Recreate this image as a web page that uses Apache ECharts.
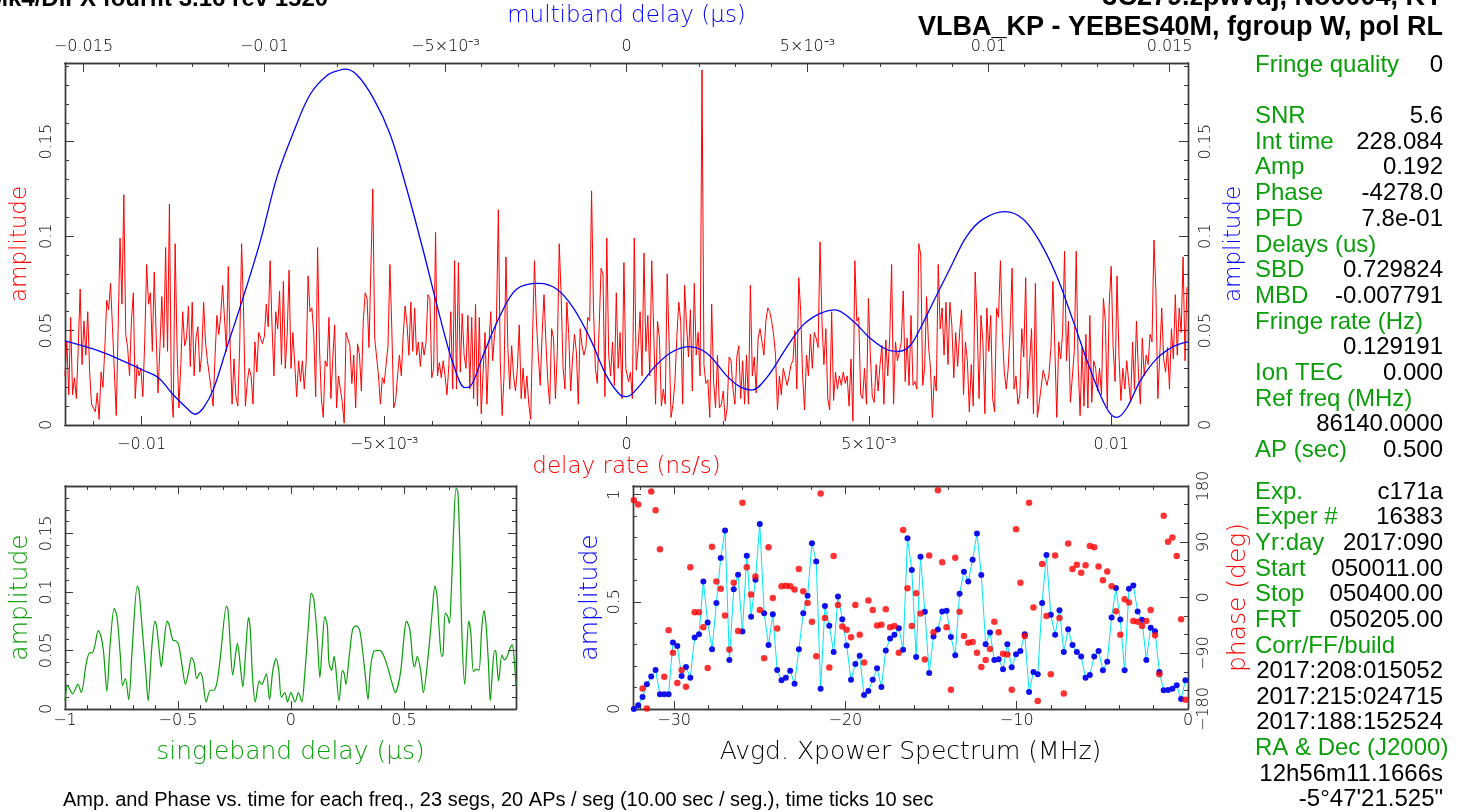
<!DOCTYPE html>
<html><head><meta charset="utf-8">
<script src="https://cdn.jsdelivr.net/npm/echarts@6/dist/echarts.min.js"></script>
<style>html,body{margin:0;padding:0;background:#fff;}#c{width:1462px;height:812px;}</style>
</head><body><div id="c"></div>
<script>
// ---------------- DATA ----------------
// Delay-rate amplitude (red), read in four consecutive stretches of the rate axis (ns/s)
const RED_RANGES = [[-0.011581,-0.005705],[-0.005664,-0.000014],[0.000041,0.005827],[0.005868,0.011559]];
const RED_A = [0.026,0.044,0.016,0.057,0.016,0.025,0.014,0.041,0.072,0.032,0.055,0.037,0.060,0.028,0.011,0.012,0.007,0.017,0.003,0.028,0.020,
0.041,0.066,0.061,0.075,0.052,0.051,0.005,0.051,0.099,0.064,0.122,0.048,0.041,0.026,0.055,0.070,0.014,0.032,0.026,0.030,0.015,0.044,0.085,
0.064,0.070,0.039,0.081,0.048,0.017,0.041,0.068,0.041,0.094,0.039,0.117,0.019,0.004,0.096,0.042,0.009,0.032,0.060,0.042,0.046,0.063,0.031,0.065,0.026,0.046,0.052,0.028,0.037,0.065,0.044,0.034,0.034,0.019,0.010,0.036,0.058,0.048,0.058,0.074,0.074,0.039,0.084,
0.041,0.011,0.035,0.015,0.010,0.042,0.096,0.062,0.010,0.023,0.030,0.026,0.011,0.044,0.028,0.049,0.046,0.043,0.047,0.064,0.052,0.087,0.053,0.026,0.060,0.051,0.071,0.032,0.076,0.030,0.048,0.082,0.030,0.049,0.049,0.015,0.034,0.023,0.034,0.019,0.034,0.079,0.060,0.062,0.048,0.015,0.094,0.041,0.014,0.004,0.034,0.031,0.057,0.014,0.035,0.053,0.009,0.026,0.019,0.012,0.001,0.049,0.050,0.042];
const RED_B = [0.022,0.037,0.009,0.043,0.037,0.018,0.055,0.070,0.067,0.041,0.041,0.125,0.046,0.046,0.026,0.011,0.025,0.022,0.021,0.042,0.085,0.051,0.009,0.013,0.026,0.037,0.026,0.048,0.063,0.053,0.037,0.065,0.039,0.062,0.037,0.044,0.031,0.044,0.037,0.044,0.069,0.067,0.025,0.030,0.102,0.026,0.033,0.025,0.034,0.026,0.016,0.032,0.060,0.019,0.087,0.019,0.086,0.028,0.059,0.037,0.030,0.058,0.019,0.057,0.014,0.064,0.010,0.057,0.006,0.028,0.049,0.011,0.042,0.060,0.034,0.048,0.055,0.114,0.034,0.005,0.026,0.089,0.041,0.019,0.042,0.026,0.018,0.030,0.053,0.014,0.030,0.014,0.026,0.011,0.003,0.048,0.087,0.055,0.037,0.021,0.048,0.069,0.044,0.023,0.011,0.051,0.046,0.014,0.039,0.096,0.069,0.031,0.019,0.065,0.048,0.018,0.035,0.048,0.039,0.011,0.051,0.042,0.037,0.041,0.057,0.055,0.124,0.062,0.030,0.022,0.023,0.083,0.080,0.015,0.099,0.037,0.026,0.044,0.021,0.070,0.030,0.049,0.014,0.086,0.030];
const RED_C = [0.023,0.028,0.014,0.099,0.029,0.041,0.060,0.026,0.091,0.039,0.058,0.026,0.087,0.051,0.011,0.055,0.046,0.010,0.019,0.011,0.080,0.044,0.004,0.011,0.023,0.047,0.065,0.055,0.011,0.074,0.053,0.036,0.061,0.018,0.075,0.037,0.049,0.026,0.188,0.032,0.022,0.024,0.004,0.064,0.023,0.009,0.037,0.009,0.011,0.018,0.002,0.009,0.036,0.034,0.019,0.011,0.036,0.042,0.014,0.034,0.011,0.037,0.011,0.074,0.026,0.036,0.017,0.046,0.051,0.052,0.037,0.055,0.062,0.060,0.055,0.048,0.037,0.008,0.026,0.016,0.030,0.029,0.021,0.026,0.032,0.034,0.050,0.019,0.078,0.060,0.026,0.008,0.037,0.026,0.048,0.030,0.049,0.046,0.041,0.097,0.055,0.032,0.051,0.014,0.008,0.060,0.013,0.028,0.019,0.026,0.021,0.028,0.022,0.026,0.010,0.035,0.002,0.087,0.055,0.057,0.016,0.014,0.030,0.011,0.067,0.037,0.015,0.012,0.032,0.018,0.032,0.042,0.011,0.045,0.026,0.046,0.085,0.011,0.044,0.034,0.039,0.044,0.071,0.023,0.046,0.021];
const RED_D = [0.058,0.021,0.023,0.019,0.096,0.090,0.021,0.030,0.068,0.042,0.030,0.004,0.026,0.018,0.085,0.051,0.062,0.037,0.065,0.032,0.065,0.053,0.025,0.049,0.031,0.049,0.061,0.016,0.044,0.034,0.007,0.032,0.010,0.081,0.055,0.014,0.058,0.044,0.006,0.062,0.039,0.058,0.014,0.007,0.062,0.057,0.087,0.049,0.028,0.019,0.030,0.051,0.083,0.019,0.026,0.011,0.016,0.051,0.036,0.078,0.014,0.015,0.051,0.006,0.075,0.004,0.012,0.011,0.029,0.030,0.021,0.027,0.041,0.076,0.041,0.004,0.044,0.035,0.049,0.092,0.034,0.055,0.012,0.013,0.039,0.092,0.032,0.005,0.041,0.010,0.048,0.009,0.058,0.012,0.034,0.030,0.018,0.030,0.016,0.067,0.055,0.009,0.064,0.084,0.041,0.023,0.079,0.037,0.013,0.030,0.019,0.034,0.023,0.012,0.044,0.019,0.055,0.028,0.011,0.046,0.026,0.037,0.032,0.048,0.044,0.098,0.071,0.014,0.037,0.062,0.035,0.028,0.041,0.019,0.051,0.035,0.069,0.037,0.062,0.049,0.089,0.034,0.073];

// Multiband delay amplitude (blue), multiband delay in microseconds
const MBD_X = [-0.01551,-0.01454,-0.01380,-0.01335,-0.01293,-0.01252,-0.01215,-0.01192,-0.01169,-0.01141,-0.01104,-0.01068,-0.01012,-0.00966,-0.00920,-0.00874,-0.00828,-0.00791,-0.00778,-0.00745,-0.00699,-0.00653,-0.00607,-0.00561,-0.00515,-0.00478,-0.00446,-0.00432,-0.00396,-0.00349,-0.00303,-0.00242,-0.00193,-0.00147,-0.00101,-0.00055,-0.00018,0.00001,0.00037,0.00074,0.00120,0.00171,0.00222,0.00277,0.00313,0.00346,0.00387,0.00442,0.00488,0.00534,0.00576,0.00626,0.00673,0.00719,0.00751,0.00783,0.00811,0.00847,0.00894,0.00940,0.00985,0.01045,0.01096,0.01142,0.01188,0.01234,0.01280,0.01326,0.01354,0.01382,0.01418,0.01464,0.01510,0.01551];
const MBD_AMP = [0.0445,0.039,0.033,0.029,0.025,0.016,0.009,0.0057,0.009,0.019,0.041,0.062,0.097,0.131,0.155,0.175,0.185,0.188,0.1885,0.1855,0.173,0.154,0.125,0.092,0.057,0.032,0.0198,0.0203,0.037,0.058,0.072,0.075,0.072,0.062,0.046,0.026,0.016,0.015,0.021,0.030,0.038,0.0415,0.038,0.026,0.0203,0.0185,0.025,0.041,0.053,0.059,0.061,0.055,0.046,0.040,0.039,0.042,0.051,0.065,0.083,0.100,0.109,0.113,0.109,0.097,0.079,0.055,0.030,0.009,0.004,0.009,0.023,0.035,0.0415,0.044];

// Singleband delay amplitude (green), delay in microseconds
const SBD_X = [-1.000,-0.988,-0.966,-0.943,-0.928,-0.906,-0.891,-0.880,-0.869,-0.853,-0.842,-0.830,-0.823,-0.815,-0.800,-0.782,-0.770,-0.755,-0.745,-0.733,-0.718,-0.703,-0.680,-0.673,-0.658,-0.643,-0.632,-0.617,-0.602,-0.595,-0.583,-0.574,-0.565,-0.548,-0.538,-0.523,-0.508,-0.497,-0.481,-0.467,-0.452,-0.440,-0.429,-0.417,-0.402,-0.392,-0.375,-0.357,-0.342,-0.327,-0.312,-0.285,-0.278,-0.267,-0.258,-0.245,-0.237,-0.222,-0.213,-0.200,-0.188,-0.180,-0.170,-0.158,-0.140,-0.129,-0.117,-0.108,-0.095,-0.080,-0.065,-0.054,-0.042,-0.027,-0.015,0.000,0.018,0.033,0.048,0.060,0.078,0.090,0.101,0.116,0.128,0.138,0.150,0.161,0.168,0.180,0.191,0.198,0.213,0.228,0.236,0.243,0.258,0.273,0.288,0.303,0.315,0.330,0.341,0.351,0.366,0.386,0.401,0.423,0.449,0.461,0.484,0.502,0.511,0.526,0.539,0.547,0.559,0.574,0.586,0.607,0.626,0.637,0.646,0.656,0.667,0.673,0.683,0.694,0.701,0.709,0.719,0.731,0.739,0.748,0.757,0.769,0.778,0.787,0.796,0.808,0.821,0.832,0.844,0.854,0.863,0.874,0.882,0.892,0.901,0.907,0.919,0.934,0.946,0.957,0.972,0.979,0.987,0.996];
const SBD_AMP = [0.007,0.020,0.013,0.021,0.014,0.039,0.048,0.048,0.053,0.067,0.063,0.050,0.033,0.015,0.056,0.086,0.079,0.045,0.020,0.026,0.008,0.050,0.105,0.102,0.068,0.033,0.007,0.050,0.075,0.071,0.050,0.036,0.050,0.075,0.071,0.059,0.058,0.055,0.036,0.021,0.033,0.044,0.040,0.026,0.031,0.027,0.006,0.016,0.016,0.023,0.045,0.088,0.084,0.050,0.029,0.047,0.056,0.033,0.019,0.050,0.078,0.068,0.027,0.006,0.024,0.021,0.026,0.030,0.008,0.033,0.043,0.033,0.010,0.014,0.006,0.014,0.006,0.014,0.006,0.027,0.073,0.099,0.094,0.062,0.027,0.053,0.079,0.071,0.040,0.033,0.045,0.036,0.007,0.033,0.030,0.021,0.045,0.068,0.071,0.068,0.053,0.027,0.008,0.033,0.049,0.050,0.049,0.039,0.021,0.014,0.030,0.065,0.075,0.068,0.042,0.036,0.045,0.033,0.014,0.045,0.085,0.105,0.098,0.068,0.045,0.046,0.082,0.079,0.073,0.097,0.149,0.189,0.185,0.134,0.062,0.021,0.050,0.075,0.065,0.032,0.034,0.033,0.068,0.084,0.073,0.039,0.007,0.033,0.050,0.049,0.024,0.046,0.042,0.045,0.053,0.055,0.045,0.020];

// Averaged cross-power spectrum: channel frequencies (MHz), amplitude and phase (deg)
const FREQ_FIRST = -32.35, FREQ_LAST = -0.15;
const XP_AMP = [0.000,0.017,0.056,0.115,0.151,0.182,0.069,0.069,0.069,0.310,
0.294,0.154,0.196,0.146,0.333,0.349,0.595,0.403,0.279,0.494,
0.704,0.832,0.229,0.559,0.626,0.361,0.715,0.430,0.603,0.863,
0.447,0.299,0.442,0.182,0.134,0.146,0.178,0.118,0.279,0.447,
0.528,0.773,0.688,0.095,0.480,0.388,0.266,0.525,0.419,0.296,
0.136,0.210,0.248,0.065,0.084,0.136,0.190,0.103,0.273,0.329,
0.346,0.377,0.276,0.796,0.648,0.243,0.710,0.453,0.168,0.338,
0.371,0.455,0.458,0.336,0.251,0.537,0.640,0.595,0.696,0.819,
0.625,0.302,0.357,0.229,0.232,0.185,0.302,0.195,0.255,0.271,
0.349,0.079,0.173,0.162,0.494,0.718,0.439,0.346,0.461,0.266,
0.372,0.298,0.266,0.245,0.146,0.159,0.245,0.271,0.181,0.220,
0.427,0.564,0.417,0.181,0.561,0.576,0.455,0.416,0.229,0.379,
0.363,0.173,0.087,0.089,0.095,0.111,0.047,0.134];
const XP_PHASE = [157,150,-147,-179,171,141,78,-128,-53,-89,
-138,-117,-144,49,-24,-24,-48,-114,82,26,
14,-29,-84,24,-54,153,49,5,34,-20,
-98,81,-1,-50,18,19,18,13,46,10,
-9,-39,-95,168,-33,-113,67,-12,-47,-52,
-64,-12,-60,-105,-5,-20,-45,-44,-19,-48,
-46,-89,109,15,-46,7,-26,-100,68,-56,
173,57,-48,-149,64,-23,-62,-73,-72,-89,
-112,-101,-83,-39,-56,-91,-92,-149,110,24,
-62,153,-16,-167,54,-30,-124,68,-33,-155,
87,46,53,40,52,83,81,50,28,42,
18,-22,-60,-3,-8,-38,-39,-46,-38,-20,
-61,-124,132,90,97,67,-35,-165];

// Tick labels
const RATE_TICKS = [-0.01,-0.005,0,0.005,0.01];
const RATE_LABELS = ['\u22120.01','\u22125\u00d710\u207b\u00b3','0','5\u00d710\u207b\u00b3','0.01'];
const MBD_TICKS = [-0.015,-0.01,-0.005,0,0.005,0.01,0.015];
const MBD_LABELS = ['\u22120.015','\u22120.01','\u22125\u00d710\u207b\u00b3','0','5\u00d710\u207b\u00b3','0.01','0.015'];
const AMP_TICKS = [0,0.05,0.1,0.15];
const AMP_LABELS = ['0','0.05','0.1','0.15'];
const SBD_TICKS = [-1,-0.5,0,0.5];
const SBD_LABELS = ['\u22121','\u22120.5','0','0.5'];
const FREQ_TICKS = [-30,-20,-10,0];
const FREQ_LABELS = ['\u221230','\u221220','\u221210','0'];
const XAMP_TICKS = [0,0.5,1];
const XAMP_LABELS = ['0','0.5','1'];
const PHASE_TICKS = [-180,-90,0,90,180];
const PHASE_LABELS = ['\u2212180','\u221290','0','90','180'];

// Text panel
const TITLE_LEFT = 'Mk4/DiFX fourfit 3.16 rev 1520';
const TITLE_RIGHT_1 = '3C279.zpwvdj, No0004, KY';
const TITLE_RIGHT_2 = 'VLBA_KP - YEBES40M, fgroup W, pol RL';
const INFO_1 = [['Fringe quality','0'],null,['SNR','5.6'],['Int time','228.084'],['Amp','0.192'],['Phase','-4278.0'],['PFD','7.8e-01'],['Delays (us)',''],['SBD','0.729824'],['MBD','-0.007791'],['Fringe rate (Hz)',''],['','0.129191'],['Ion TEC','0.000'],['Ref freq (MHz)',''],['','86140.0000'],['AP (sec)','0.500']];
const INFO_2 = [['Exp.','c171a'],['Exper #','16383'],['Yr:day','2017:090'],['Start','050011.00'],['Stop','050400.00'],['FRT','050205.00'],['Corr/FF/build',''],['','2017:208:015052'],['','2017:215:024715'],['','2017:188:152524'],['RA & Dec (J2000)',''],['','12h56m11.1666s'],['','-5\u00b047\'21.525"']];
const FOOTER = 'Amp. and Phase vs. time for each freq., 23 segs, 20 APs / seg (10.00 sec / seg.), time ticks 10 sec';

// ---------------- CHART ----------------
const RATE_MIN=-0.01158, RATE_MAX=0.01158, MBD_MIN=-0.01551, MBD_MAX=0.01551, AMP_MAX=0.1917;
const SBD_MIN=-1, SBD_MAX=0.996, SBDA_MAX=0.1905, FREQ_MIN=-32.4, FREQ_MAX=0, XAMP_MAX=1.04;
function steps(a,b,s){const r=[];const n=Math.round((b-a)/s);for(let i=0;i<=n;i++)r.push(+(a+i*s).toFixed(8));return r;}
const FRAME='#3a3a3a', GREEN='#0a9e0a', TF='DejaVu Sans';

function ax(grid,pos,min,max,ticks,len,lab){
  const a={type:'value',gridIndex:grid,position:pos,min:min,max:max,scale:false,
    axisLine:{show:true,onZero:false,lineStyle:{color:FRAME,width:1.4}},
    axisTick:{show:true,inside:true,length:len,customValues:ticks,lineStyle:{color:FRAME,width:1}},
    axisLabel:{show:false},splitLine:{show:false},minorTick:{show:false}};
  if(lab){
    a.axisLabel={show:true,customValues:lab.v,
      formatter:function(val){for(let i=0;i<lab.v.length;i++){if(Math.abs(val-lab.v[i])<1e-9)return lab.t[i];}return '';},
      rotate:lab.rot||0,margin:lab.m,fontFamily:TF,fontWeight:300,fontSize:16,color:'#000'};
    if(lab.name){a.name=lab.name;a.nameLocation='middle';a.nameGap=lab.gap;a.nameRotate=lab.nrot||0;
      a.nameTextStyle={color:lab.color,fontFamily:TF,fontWeight:300,fontSize:lab.fs||23};}
  }
  return a;
}
const g=(l,t,w,h)=>({left:l,top:t,width:w,height:h,containLabel:false,outerBoundsMode:'none'});
const grids=[g(65,63,1123,362),g(65,63,1123,362),g(65,486,451,223),g(65,486,451,223),g(633,486,555,223),g(633,486,555,223)];

const xAxes=[
  ax(0,'bottom',RATE_MIN,RATE_MAX,RATE_TICKS,9,{v:RATE_TICKS,t:RATE_LABELS,m:12,name:'delay rate (ns/s)',gap:31,color:'#ff0000'}),
  ax(0,'top',MBD_MIN,MBD_MAX,MBD_TICKS,9,{v:MBD_TICKS,t:MBD_LABELS,m:8,name:'multiband delay (\u03bcs)',gap:35,color:'#0000ff'}),
  ax(1,'bottom',RATE_MIN,RATE_MAX,steps(-0.011,0.011,0.001),4),
  ax(1,'top',MBD_MIN,MBD_MAX,steps(-0.015,0.015,0.001),4),
  ax(2,'bottom',SBD_MIN,SBD_MAX,SBD_TICKS,8,{v:SBD_TICKS,t:SBD_LABELS,m:4,name:'singleband delay (\u03bcs)',gap:31,fs:25,color:GREEN}),
  ax(2,'top',SBD_MIN,SBD_MAX,SBD_TICKS,8),
  ax(3,'bottom',SBD_MIN,SBD_MAX,steps(-1,0.9,0.1),4),
  ax(3,'top',SBD_MIN,SBD_MAX,steps(-1,0.9,0.1),4),
  ax(4,'bottom',FREQ_MIN,FREQ_MAX,FREQ_TICKS,8,{v:FREQ_TICKS,t:FREQ_LABELS,m:4,name:'Avgd. Xpower Spectrum (MHz)',gap:31,fs:25,color:'#000'}),
  ax(4,'top',FREQ_MIN,FREQ_MAX,FREQ_TICKS,8),
  ax(5,'bottom',FREQ_MIN,FREQ_MAX,steps(-32,0,2),4),
  ax(5,'top',FREQ_MIN,FREQ_MAX,steps(-32,0,2),4)
];
const yAxes=[
  ax(0,'left',0,AMP_MAX,AMP_TICKS,9,{v:AMP_TICKS,t:AMP_LABELS,m:10,rot:90,name:'amplitude',gap:33,nrot:90,color:'#ff0000'}),
  ax(0,'right',0,AMP_MAX,AMP_TICKS,9,{v:AMP_TICKS,t:AMP_LABELS,m:10,rot:90,name:'amplitude',gap:35,nrot:90,color:'#0000ff'}),
  ax(1,'left',0,AMP_MAX,steps(0,0.19,0.01),4),
  ax(1,'right',0,AMP_MAX,steps(0,0.19,0.01),4),
  ax(2,'left',0,SBDA_MAX,AMP_TICKS,8,{v:AMP_TICKS,t:AMP_LABELS,m:10,rot:90,name:'amplitude',gap:32,fs:25,nrot:90,color:GREEN}),
  ax(2,'right',0,SBDA_MAX,AMP_TICKS,8),
  ax(3,'left',0,SBDA_MAX,steps(0,0.19,0.01),4),
  ax(3,'right',0,SBDA_MAX,steps(0,0.19,0.01),4),
  ax(4,'left',0,XAMP_MAX,XAMP_TICKS,8,{v:XAMP_TICKS,t:XAMP_LABELS,m:10,rot:90,name:'amplitude',gap:30,fs:25,nrot:90,color:'#0000ff'}),
  ax(4,'right',-180,180,PHASE_TICKS,8,{v:PHASE_TICKS,t:PHASE_LABELS,m:8,rot:90,name:'phase (deg)',gap:38,fs:25,nrot:90,color:'#ff0000'}),
  ax(5,'left',0,XAMP_MAX,steps(0,1,0.1),4),
  ax(5,'right',-180,180,steps(-180,180,30),4)
];

// build series data from the arrays
const redData=[];
[RED_A,RED_B,RED_C,RED_D].forEach((seg,k)=>{const lo=RED_RANGES[k][0],hi=RED_RANGES[k][1];
  seg.forEach((v,i)=>redData.push([lo+(hi-lo)*i/(seg.length-1),v]));});
const mbdData=MBD_X.map((x,i)=>[x,MBD_AMP[i]]);
const sbdData=SBD_X.slice(0,Math.min(SBD_X.length,SBD_AMP.length)).map((x,i)=>[x,SBD_AMP[i]]);
const nCh=XP_AMP.length;
const freqs=XP_AMP.map((_,i)=>FREQ_FIRST+(FREQ_LAST-FREQ_FIRST)*i/(nCh-1));
const xpAmp=freqs.map((f,i)=>[f,XP_AMP[i]]);
const xpPh=freqs.map((f,i)=>[f,XP_PHASE[i]]);

const graphics=[];
const txt=(s,x,y,o)=>graphics.push({type:'text',x:x,y:y,silent:true,style:Object.assign({text:s,fill:'#000',font:'24px "Liberation Sans"',textAlign:'left',textVerticalAlign:'middle'},o||{})});
txt(TITLE_LEFT,-12,11,{font:'bold 24px "Liberation Sans"',textVerticalAlign:'bottom'});
txt(TITLE_RIGHT_1,1443,11,{font:'bold 27px "Liberation Sans"',textAlign:'right',textVerticalAlign:'bottom'});
txt(TITLE_RIGHT_2,1443,41,{font:'bold 27px "Liberation Sans"',textAlign:'right',textVerticalAlign:'bottom'});
INFO_1.forEach((r,i)=>{if(!r)return;const y=65+i*25.7;
  if(r[0])txt(r[0],1255,y,{fill:GREEN});if(r[1])txt(r[1],1443,y,{textAlign:'right'});});
INFO_2.forEach((r,i)=>{const y=492+i*25.65;
  if(r[0])txt(r[0],1255,y,{fill:GREEN});if(r[1])txt(r[1],1443,y,{textAlign:'right'});});
txt(FOOTER,63,800,{font:'20px "Liberation Sans"'});

const chart=echarts.init(document.getElementById('c'),null,{renderer:'canvas'});
chart.setOption({
  animation:false,backgroundColor:'#fff',
  grid:grids,xAxis:xAxes,yAxis:yAxes,
  series:[
    {type:'line',xAxisIndex:0,yAxisIndex:0,data:redData,showSymbol:false,lineStyle:{color:'#ff0000',width:1},silent:true,z:2},
    {type:'line',xAxisIndex:1,yAxisIndex:1,data:mbdData,showSymbol:false,smooth:0.35,lineStyle:{color:'#0000ff',width:1.3},silent:true,z:3},
    {type:'line',xAxisIndex:4,yAxisIndex:4,data:sbdData,showSymbol:false,smooth:0.3,lineStyle:{color:GREEN,width:1.2},silent:true},
    {type:'line',xAxisIndex:8,yAxisIndex:8,data:xpAmp,symbol:'circle',symbolSize:6,showSymbol:true,
      lineStyle:{color:'#00e5f5',width:1},itemStyle:{color:'#1010ee'},silent:true,z:3},
    {type:'scatter',xAxisIndex:8,yAxisIndex:9,data:xpPh,symbol:'circle',symbolSize:6.5,itemStyle:{color:'#ff0000'},silent:true,z:4}
  ],
  graphic:graphics
});
</script></body></html>
